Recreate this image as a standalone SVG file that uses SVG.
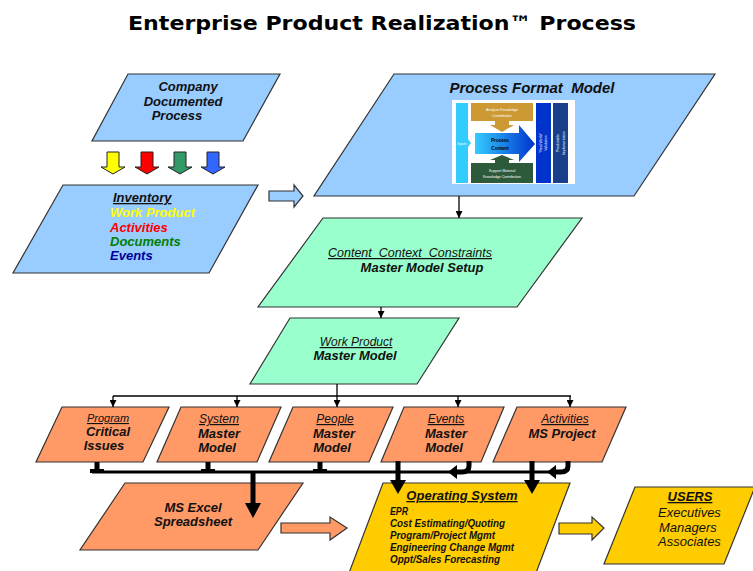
<svg xmlns="http://www.w3.org/2000/svg" width="753" height="571" viewBox="0 0 753 571">
<defs>
<style>
text{font-family:"Liberation Sans",Arial,sans-serif;}
.box{stroke:#333;stroke-width:1.2;}
.blue{fill:#99ccff;}
.green{fill:#99ffcc;}
.orange{fill:#ff9966;}
.yellow{fill:#ffcc00;}
.bi{font-weight:bold;font-style:italic;font-size:13px;fill:#111;}
.iu{font-style:italic;font-size:12px;text-decoration:underline;fill:#111;}
.thin{stroke:#000;stroke-width:1.3;fill:none;}
.thick{stroke:#000;stroke-width:5;fill:none;}
.head{fill:#000;}
.tiny{font-size:3.6px;fill:#fff;}
.os{font-weight:bold;font-style:italic;font-size:11px;fill:#111;}
.c{text-anchor:middle;}
.pre{white-space:pre;}
</style>
<marker id="ah" viewBox="0 0 10 10" refX="10" refY="5" markerWidth="7" markerHeight="7" orient="auto" markerUnits="userSpaceOnUse">
<path d="M0,0 L10,5 L0,10 z" fill="#000"/>
</marker>
<linearGradient id="pg" x1="0" x2="1" y1="0" y2="0">
<stop offset="0" stop-color="#33ccff"/>
<stop offset="1" stop-color="#0033cc"/>
</linearGradient>
</defs>
<rect width="753" height="571" fill="#fff"/>
<text x="382" y="30" class="c" style="font-family:'DejaVu Sans',Verdana,sans-serif;font-weight:bold;font-size:20px" textLength="508" lengthAdjust="spacingAndGlyphs">Enterprise Product Realization™ Process</text>

<g id="company">
<polygon class="box blue" points="128,74 280,74 243,141 92,141"/>
<text class="bi c" x="188" y="91">Company</text>
<text class="bi c" x="183" y="106">Documented</text>
<text class="bi c" x="177" y="120">Process</text>
</g>

<g id="color-arrows" stroke="#222" stroke-width="1">
<polygon fill="#ffff00" points="107,152 119,152 119,167 125,167 113,174 101,167 107,167"/>
<polygon fill="#ff0000" points="141,152 153,152 153,167 159,167 147,174 135,167 141,167"/>
<polygon fill="#339966" points="174,152 186,152 186,167 192,167 180,174 168,167 174,167"/>
<polygon fill="#3366ff" points="207,152 219,152 219,167 225,167 213,174 201,167 207,167"/>
</g>

<g id="inventory">
<polygon class="box blue" points="63,185 258,185 209,273 13,273"/>
<text class="bi" x="113" y="202" text-decoration="underline">Inventory</text>
<text class="bi" x="110" y="217" style="fill:#ffff00">Work Product</text>
<text class="bi" x="110" y="232" style="fill:#ff0000">Activities</text>
<text class="bi" x="110" y="246" style="fill:#008000">Documents</text>
<text class="bi" x="110" y="260" style="fill:#000099">Events</text>
</g>

<g id="pfm">
<polygon class="box blue" points="394,74 715,74 634,196 314,196"/>
<text x="532" y="93" class="c pre" style="font-weight:bold;font-style:italic;font-size:15px;fill:#111">Process Format  Model</text>
<rect x="452" y="100" width="123" height="84" fill="#fff"/>
<polygon fill="#33ccff" points="456,103 468,103 468,139 471,143 468,147 468,183 456,183"/>
<text class="tiny" x="462" y="145" text-anchor="middle" style="font-size:3.4px">Inputs</text>
<rect x="471" y="103" width="62" height="18" fill="#cc9933"/>
<text class="tiny c" x="502" y="111">Analysis Knowledge</text>
<text class="tiny c" x="502" y="117">Contribution</text>
<polygon fill="#cc9933" points="495,121 509,121 509,125 514,125 502,132 490,125 495,125"/>
<polygon fill="url(#pg)" points="475,133 519,133 519,125 535,144 519,162 519,154 475,154"/>
<text class="c" x="500" y="142" style="font-size:4.6px;font-weight:bold;fill:#000">Process</text>
<text class="c" x="500" y="150" style="font-size:4.6px;font-weight:bold;fill:#000">Content</text>
<polygon fill="#2d5a3a" points="495,163 495,160 490,160 502,155 514,160 509,160 509,163"/>
<rect x="471" y="163" width="62" height="20" fill="#2d5a3a"/>
<text class="tiny c" x="502" y="172">Support Material</text>
<text class="tiny c" x="502" y="178">Knowledge Contribution</text>
<rect x="536" y="103" width="15" height="80" fill="#0033cc"/>
<text class="tiny c" transform="translate(542,143) rotate(-90)">“Real World”</text>
<text class="tiny c" transform="translate(547,143) rotate(-90)">Validation</text>
<rect x="553" y="103" width="15" height="80" fill="#1a3f8a"/>
<text class="tiny c" transform="translate(559,143) rotate(-90)">Predictable</text>
<text class="tiny c" transform="translate(565,143) rotate(-90)">Implementation</text>
</g>

<g id="ccc">
<polygon class="box green" points="323,218 582,218 517,307 258,307"/>
<text class="iu c pre" x="410" y="257" style="font-size:12.5px">Content  Context  Constraints</text>
<text class="bi c" x="422" y="272">Master Model Setup</text>
</g>

<g id="wp">
<polygon class="box green" points="290,318 459,318 417,384 250,384"/>
<text class="iu c" x="356" y="346">Work Product</text>
<text class="bi c" x="355" y="360">Master Model</text>
</g>

<g id="program">
<polygon class="box orange" points="62,407 169,407 143,462 36,462"/>
<text class="iu c" x="108" y="422" style="font-size:11px">Program</text>
<text class="bi c" x="108" y="436">Critical</text>
<text class="bi c" x="104" y="450">Issues</text>
</g>
<g id="system">
<polygon class="box orange" points="181,407 281,407 257,462 157,462"/>
<text class="iu c" x="219" y="423">System</text>
<text class="bi c" x="219" y="438">Master</text>
<text class="bi c" x="217" y="452">Model</text>
</g>
<g id="people">
<polygon class="box orange" points="293,407 393,407 369,462 269,462"/>
<text class="iu c" x="335" y="423">People</text>
<text class="bi c" x="334" y="438">Master</text>
<text class="bi c" x="332" y="452">Model</text>
</g>
<g id="events">
<polygon class="box orange" points="404,407 504,407 481,462 381,462"/>
<text class="iu c" x="446" y="423">Events</text>
<text class="bi c" x="446" y="438">Master</text>
<text class="bi c" x="444" y="452">Model</text>
</g>
<g id="activities">
<polygon class="box orange" points="517,407 626,407 602,462 493,462"/>
<text class="iu c" x="565" y="423">Activities</text>
<text class="bi c" x="562" y="438">MS Project</text>
</g>

<g id="excel">
<polygon class="box orange" points="125,483 303,483 258,550 80,550"/>
<text class="bi c" x="193" y="512">MS Excel</text>
<text class="bi c" x="193" y="526">Spreadsheet</text>
</g>

<g id="os">
<polygon class="box yellow" points="383,483 570,483 536,573 349,573"/>
<text class="bi c" x="462" y="500" text-decoration="underline">Operating System</text>
<text class="os" x="390" y="515" textLength="18" lengthAdjust="spacingAndGlyphs">EPR</text>
<text class="os" x="390" y="527" textLength="115" lengthAdjust="spacingAndGlyphs">Cost Estimating/Quoting</text>
<text class="os" x="390" y="539" textLength="105" lengthAdjust="spacingAndGlyphs">Program/Project Mgmt</text>
<text class="os" x="390" y="551" textLength="124" lengthAdjust="spacingAndGlyphs">Engineering Change Mgmt</text>
<text class="os" x="390" y="563" textLength="110" lengthAdjust="spacingAndGlyphs">Oppt/Sales Forecasting</text>
</g>

<g id="users">
<polygon class="box yellow" points="635,487 755,487 724,564 604,564"/>
<text class="bi c" x="690" y="501" text-decoration="underline">USERS</text>
<text x="658" y="517" style="font-style:italic;font-size:13px;fill:#111">Executives</text>
<text x="659" y="532" style="font-style:italic;font-size:13px;fill:#111">Managers</text>
<text x="658" y="546" style="font-style:italic;font-size:13px;fill:#111">Associates</text>
</g>

<g id="connectors">
<polygon fill="#99ccff" stroke="#333" stroke-width="1.2" points="269,191 294,191 294,185 303,196 294,207 294,201 269,201"/>
<polygon fill="#ff9966" stroke="#333" stroke-width="1.2" points="281,523 330,523 330,517 347,528 330,540 330,533 281,533"/>
<polygon fill="#ffcc00" stroke="#333" stroke-width="1.2" points="559,523 592,523 592,517 604,528 592,540 592,534 559,534"/>
<line class="thin" x1="459" y1="196" x2="459" y2="218" marker-end="url(#ah)"/>
<line class="thin" x1="381" y1="307" x2="381" y2="318" marker-end="url(#ah)"/>
<line class="thin" x1="337" y1="384" x2="337" y2="396"/>
<line class="thin" x1="113" y1="396" x2="571" y2="396"/>
<line class="thin" x1="113" y1="396" x2="113" y2="407" marker-end="url(#ah)"/>
<line class="thin" x1="237" y1="396" x2="237" y2="407" marker-end="url(#ah)"/>
<line class="thin" x1="337" y1="396" x2="337" y2="407" marker-end="url(#ah)"/>
<line class="thin" x1="458" y1="396" x2="458" y2="407" marker-end="url(#ah)"/>
<line class="thin" x1="570" y1="396" x2="570" y2="407" marker-end="url(#ah)"/>
<line x1="92" y1="472" x2="550" y2="472" stroke="#000" stroke-width="3"/>
<line class="thick" x1="97" y1="462" x2="97" y2="472"/>
<rect x="90" y="469" width="14" height="4" fill="#000"/>
<line class="thick" x1="208" y1="462" x2="208" y2="472"/>
<rect x="201" y="469" width="14" height="4" fill="#000"/>
<line class="thick" x1="320" y1="462" x2="320" y2="472"/>
<rect x="313" y="469" width="14" height="4" fill="#000"/>
<line class="thick" x1="253" y1="472" x2="253" y2="505" stroke-width="6"/>
<polygon class="head" points="245,503 261,503 253,518"/>
<line class="thick" x1="398" y1="461" x2="398" y2="482" stroke-width="6"/>
<polygon class="head" points="390,480 406,480 398,494"/>
<line class="thick" x1="532" y1="461" x2="532" y2="482" stroke-width="6"/>
<polygon class="head" points="524,480 540,480 532,494"/>
<path class="thick" d="M469,461 V466 Q469,472 462,472 H456"/>
<polygon class="head" points="457,465 457,479 448,472"/>
<path class="thick" d="M568,461 V466 Q568,472 561,472 H555"/>
<polygon class="head" points="556,465 556,479 547,472"/>
</g>
</svg>
